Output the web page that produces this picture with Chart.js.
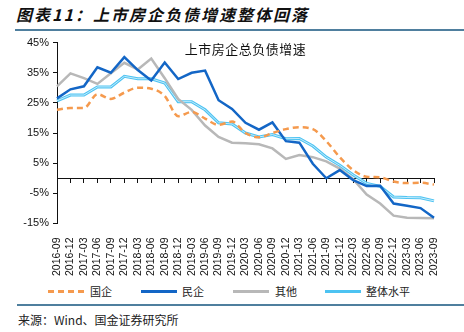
<!DOCTYPE html>
<html>
<head>
<meta charset="utf-8">
<script src="https://cdn.jsdelivr.net/npm/chart.js@4"></script>
<style>
  body { margin: 0; width: 464px; height: 332px; background: #fff; position: relative; overflow: hidden; font-family: "Noto Sans CJK SC", sans-serif; }
  #head { position: absolute; left: 16px; top: 3px; font-size: 16px; font-weight: bold; font-style: italic; letter-spacing: 2px; color: #111; line-height: 22px; }
  .rule { position: absolute; height: 2px; background: #4f7f9e; right: 0; }
  #chartBox { position: absolute; left: 0; top: 32px; }
  .lg { position: absolute; top: 284px; font-size: 11px; line-height: 14px; color: #222; }
  .sw { position: absolute; top: 290px; width: 36px; height: 3px; }
  #src { position: absolute; left: 18px; top: 312px; font-size: 12px; line-height: 16px; color: #222; }
</style>
</head>
<body>
<div id="head">图表11：上市房企负债增速整体回落</div>
<div class="rule" style="left:15px; top:29px;"></div>
<div id="chartBox"><canvas id="debtChart" width="464" height="250"></canvas></div>

<div class="sw" style="left:48px; background: repeating-linear-gradient(90deg, #f59a4e 0 6px, transparent 6px 10px);"></div>
<div class="lg" style="left:90px;">国企</div>
<div class="sw" style="left:141px; background:#1366c6;"></div>
<div class="lg" style="left:182px;">民企</div>
<div class="sw" style="left:233px; background:#b8b8b8;"></div>
<div class="lg" style="left:275px;">其他</div>
<div class="sw" style="left:325px; background:#4dc3f2;"></div>
<div class="lg" style="left:366px;">整体水平</div>

<div class="rule" style="left:17px; top:304px;"></div>
<div id="src">来源：Wind、国金证券研究所</div>

<script>
const quarters = ["2016-09","2016-12","2017-03","2017-06","2017-09","2017-12","2018-03","2018-06","2018-09","2018-12",
  "2019-03","2019-06","2019-09","2019-12","2020-03","2020-06","2020-09","2020-12","2021-03","2021-06",
  "2021-09","2021-12","2022-03","2022-06","2022-09","2022-12","2023-03","2023-06","2023-09"];

const stateOwned = [22.7,23.3,23.3,27.9,26.3,28.4,30,29.7,27.3,20.6,22,19.8,17.7,18.8,15,13.6,15,16.3,16.9,16.3,12.3,7,2.7,0.5,0.3,-1.1,-1.6,-1.5,-2.1];
const privateOwned = [26.5,29.5,30.5,36.8,35,40.2,35.9,32.4,38.4,32.9,35,35.7,25.9,23,18.4,16.1,18.5,12.3,11.8,4.8,0,2.7,-0.6,-2.6,-2.5,-8.4,-9.1,-9.9,-13.1];
const others = [30.5,34.8,33.2,31.3,34.8,38.3,36.1,39.7,33.2,26.3,22.7,17.5,13.7,11.8,11.6,11.3,9.9,6.4,7.7,7,5.6,3.2,-0.3,-5.4,-8.4,-12.4,-13.1,-13.2,-13.3];
const overall = [25.7,27.6,27.6,30.3,30.3,33.8,33,33,31.6,25.4,25.4,22.7,18.4,18,15,13.7,14.5,13.1,13.2,10.7,7,4.3,1.1,-1.7,-2.7,-6.2,-6.4,-6.5,-7.5];

const yMin = -15, yMax = 45, yStep = 10;
const innerTitle = "上市房企总负债增速";

const tickFont = { family: "'Liberation Sans', Arial, sans-serif", size: 11 };
const xTickFont = { family: "'Liberation Sans', Arial, sans-serif", size: 10.5 };

// title drawn inside the plot area
const innerTitlePlugin = {
  id: "innerTitle",
  afterDraw(chart) {
    const ctx = chart.ctx;
    const a = chart.chartArea;
    ctx.save();
    ctx.font = "13px 'Noto Sans CJK SC'";
    ctx.letterSpacing = "0.5px";
    ctx.fillStyle = "#111";
    ctx.textAlign = "center";
    ctx.textBaseline = "middle";
    ctx.fillText(innerTitle, (a.left + a.right) / 2, a.top + 6);
    ctx.restore();
  }
};

// pale core stroke for the "overall" double line
const doubleLinePlugin = {
  id: "doubleLine",
  afterDatasetDraw(chart, args) {
    if (args.index !== 3) return;
    const pts = args.meta.data;
    const ctx = chart.ctx;
    ctx.save();
    ctx.strokeStyle = "#c4ecfc";
    ctx.lineWidth = 1;
    ctx.beginPath();
    pts.forEach((p, i) => i ? ctx.lineTo(p.x, p.y) : ctx.moveTo(p.x, p.y));
    ctx.stroke();
    ctx.restore();
  }
};

const ctx = document.getElementById("debtChart").getContext("2d");
new Chart(ctx, {
  type: "line",
  data: {
    labels: quarters,
    datasets: [
      { label: "国企", data: stateOwned, borderColor: "#f59a4e", borderWidth: 2.5, borderDash: [6, 4], cubicInterpolationMode: "monotone", pointRadius: 0 },
      { label: "民企", data: privateOwned, borderColor: "#1366c6", borderWidth: 2.5, tension: 0, pointRadius: 0 },
      { label: "其他", data: others, borderColor: "#b8b8b8", borderWidth: 2.5, tension: 0, pointRadius: 0 },
      { label: "整体水平", data: overall, borderColor: "#4dc3f2", borderWidth: 3, tension: 0, pointRadius: 0 }
    ]
  },
  options: {
    responsive: false,
    animation: false,
    devicePixelRatio: 1,
    layout: { padding: { left: 22, right: 30, top: 7, bottom: 0 } },
    plugins: { legend: { display: false }, tooltip: { enabled: false } },
    scales: {
      x: {
        type: "category",
        position: "bottom",
        offset: false,
        grid: { display: false },
        border: { display: false },
        ticks: { autoSkip: false, minRotation: 90, maxRotation: 90, padding: 6, color: "#111", font: xTickFont }
      },
      x0: {
        type: "category",
        position: { y: 0 },
        offset: false,
        grid: { drawOnChartArea: false, drawTicks: true, tickLength: 4, color: "#111" },
        border: { display: true, color: "#111", width: 1 },
        ticks: { display: false }
      },
      y: {
        min: yMin,
        max: yMax,
        afterFit(scale) { scale.width = 35; },
        grid: { drawOnChartArea: false, drawTicks: true, tickLength: 4, color: "#111" },
        border: { display: true, color: "#111", width: 1 },
        ticks: { stepSize: yStep, padding: 4, color: "#111", font: tickFont, callback: v => v + "%" }
      }
    }
  },
  plugins: [innerTitlePlugin, doubleLinePlugin]
});
</script>
</body>
</html>
